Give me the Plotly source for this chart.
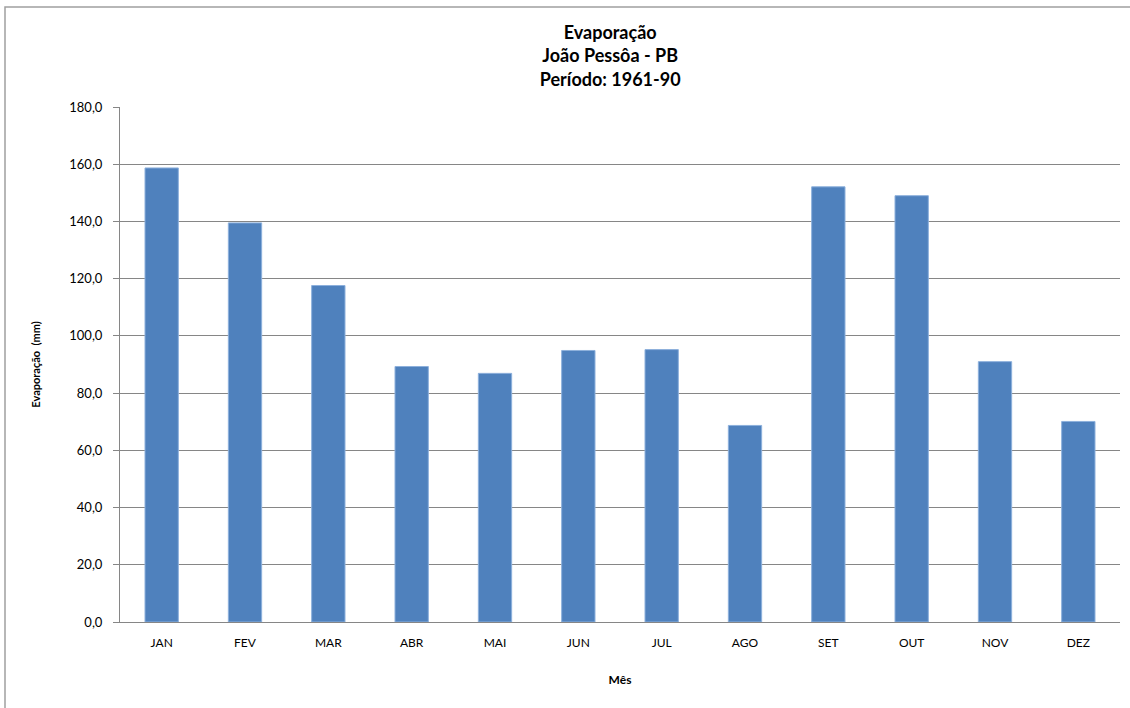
import plotly.graph_objects as go

meses = ["JAN", "FEV", "MAR", "ABR", "MAI", "JUN", "JUL", "AGO", "SET", "OUT", "NOV", "DEZ"]
evaporacao = [158.7, 139.5, 117.6, 89.3, 86.9, 94.9, 95.2, 68.7, 152.1, 149.0, 91.0, 70.1]
y_ticks = [0, 20, 40, 60, 80, 100, 120, 140, 160, 180]
y_tick_labels = ["0,0", "20,0", "40,0", "60,0", "80,0", "100,0", "120,0", "140,0", "160,0", "180,0"]

FONT = "Lato, 'Open Sans', sans-serif"

fig = go.Figure(
    go.Bar(
        x=meses,
        y=evaporacao,
        marker=dict(color="#4F81BD", line=dict(color="#8DB0DC", width=1)),
        width=0.4,
    )
)

fig.update_layout(
    width=1130,
    height=708,
    margin=dict(l=120, r=10, t=107, b=86),
    paper_bgcolor="white",
    plot_bgcolor="white",
    showlegend=False,
    font=dict(family=FONT, color="black"),
    title=dict(
        text="<b>Evaporação<br>João Pessôa - PB<br>Período: 1961-90</b>",
        x=0.54,
        xanchor="center",
        y=0.945,
        yanchor="top",
        font=dict(size=18, family=FONT, color="black"),
    ),
    xaxis=dict(
        showgrid=False,
        showline=True,
        linecolor="#868686",
        linewidth=1,
        ticks="",
        ticklabelstandoff=10,
        tickfont=dict(size=12),
        title=dict(text="<b>Mês</b>", font=dict(size=12), standoff=26),
    ),
    yaxis=dict(
        range=[0, 180],
        tickvals=y_ticks,
        ticktext=y_tick_labels,
        showgrid=True,
        gridcolor="#868686",
        gridwidth=1,
        showline=True,
        linecolor="#868686",
        ticks="outside",
        ticklen=6,
        tickcolor="#868686",
        ticklabelstandoff=8,
        tickfont=dict(size=13),
        zeroline=False,
        title=dict(text="<b>Evaporação  (mm)</b>", font=dict(size=11), standoff=26),
    ),
    shapes=[
        dict(
            type="rect", xref="paper", yref="paper",
            x0=-115 / 1000, x1=1.1, y0=-0.3, y1=1 + 100 / 515,
            line=dict(color="#A0A0A0", width=1.5), fillcolor="rgba(0,0,0,0)",
            layer="below",
        )
    ],
)

fig.write_html("out.html")
